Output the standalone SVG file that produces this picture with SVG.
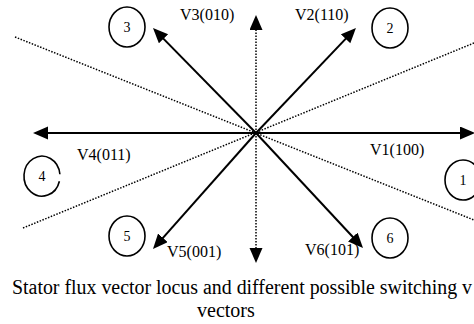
<svg xmlns="http://www.w3.org/2000/svg" width="474" height="324" viewBox="0 0 474 324">
<style>
.vec{stroke:#000;stroke-width:2;fill:none;marker-end:url(#ah)}
.dot{stroke:#000;stroke-width:1.5;stroke-dasharray:1.5 1.5;fill:none}
.ring{stroke:#000;stroke-width:1.6;fill:none}
.lbl{font-family:"Liberation Serif",serif;font-size:16px;fill:#000}
.num{font-family:"Liberation Serif",serif;font-size:14px;fill:#000;text-anchor:middle}
.cap{font-family:"Liberation Serif",serif;font-size:20px;fill:#000}
</style>
<defs>
<marker id="ah" markerUnits="userSpaceOnUse" markerWidth="16" markerHeight="14" refX="10" refY="6.5" orient="auto">
<path d="M0,0 L15,6.5 L0,13 z" fill="#000"/>
</marker>
</defs>
<rect width="474" height="324" fill="#fff"/>
<g id="connectors">
<line class="dot" x1="15" y1="37" x2="474" y2="220"/>
<line class="dot" x1="23" y1="228" x2="474" y2="43"/>
<line class="dot" x1="256" y1="133" x2="256" y2="20" marker-end="url(#ah)"/>
<line class="dot" x1="256" y1="133" x2="256" y2="258" marker-end="url(#ah)"/>
<line class="vec" x1="256" y1="133" x2="470" y2="133"/>
<line class="vec" x1="256" y1="133" x2="38" y2="133"/>
<line class="vec" x1="256" y1="133" x2="352.5" y2="31.6"/>
<line class="vec" x1="256" y1="133" x2="156.5" y2="31.6"/>
<line class="vec" x1="256" y1="133" x2="156.3" y2="245.3"/>
<line class="vec" x1="256" y1="133" x2="359.6" y2="244.3"/>
</g>
<g id="n1"><ellipse class="ring" cx="463" cy="180" rx="18" ry="20"/><text class="num" x="463" y="185">1</text></g>
<g id="n2"><ellipse class="ring" cx="390" cy="28" rx="18" ry="20"/><text class="num" x="390" y="33">2</text></g>
<g id="n3"><ellipse class="ring" cx="127" cy="27" rx="18" ry="20"/><text class="num" x="127" y="32">3</text></g>
<g id="n4"><path class="ring" d="M59.9,174.3 A18,20 0 1,0 59.4,181.2"/><text class="num" x="42" y="181">4</text></g>
<g id="n5"><ellipse class="ring" cx="127" cy="236" rx="18" ry="20"/><text class="num" x="127" y="241">5</text></g>
<g id="n6"><ellipse class="ring" cx="390" cy="238" rx="18" ry="20"/><text class="num" x="390" y="243">6</text></g>
<g id="labels">
<text class="lbl" x="370" y="155">V1(100)</text>
<text class="lbl" x="295" y="20">V2(110)</text>
<text class="lbl" x="180" y="20">V3(010)</text>
<text class="lbl" x="77" y="160">V4(011)</text>
<text class="lbl" x="167" y="257">V5(001)</text>
<text class="lbl" x="305" y="255">V6(101)</text>
</g>
<text class="cap" x="12" y="294" textLength="460" lengthAdjust="spacingAndGlyphs">Stator flux vector locus and different possible switching v</text>
<text class="cap" x="197" y="317">vectors</text>
</svg>
